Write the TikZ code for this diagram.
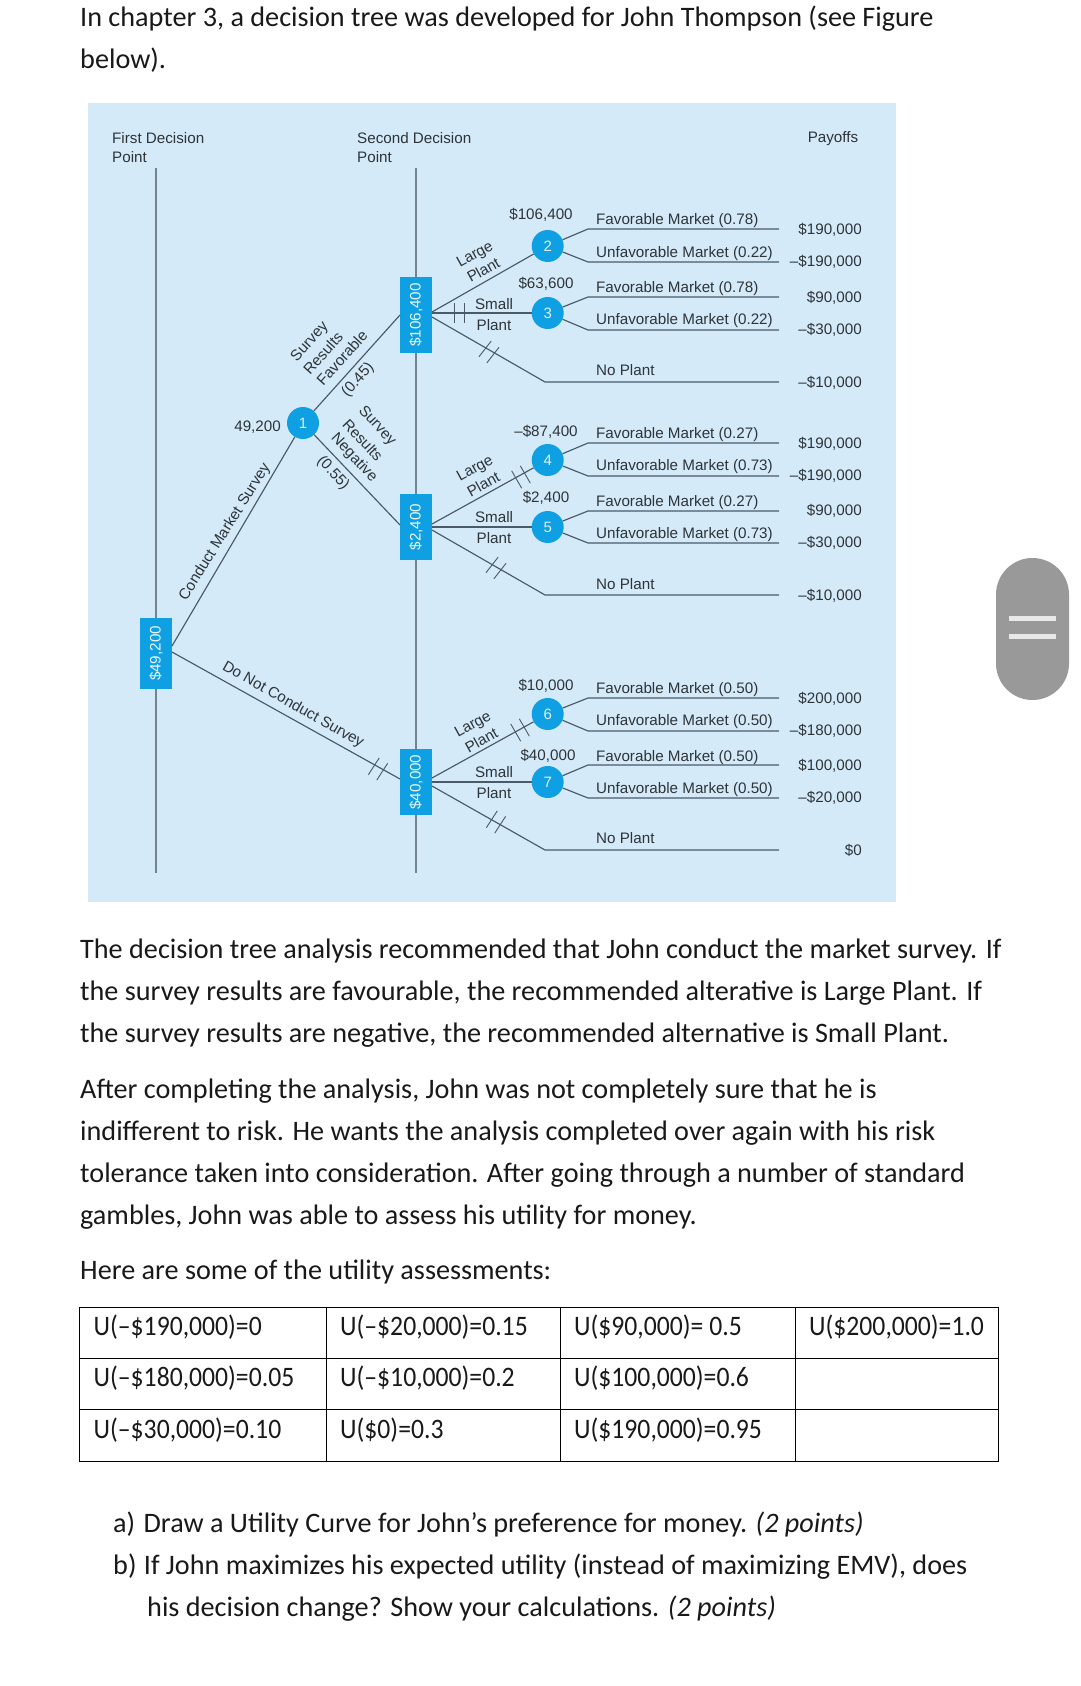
\documentclass[tikz,border=0pt]{standalone}
\usepackage{fontspec}
\setmainfont{Carlito}
\newfontfamily\treefont{Liberation Sans}
\newfontfamily\narrowfont[FakeStretch=0.91]{Carlito}
\definecolor{panel}{HTML}{D4EAF9}
\definecolor{boxblue}{HTML}{0FA0E4}
\definecolor{axisgray}{HTML}{73848F}
\definecolor{branch}{HTML}{4A5A66}
\definecolor{treetext}{HTML}{2E3438}
\definecolor{pill}{HTML}{999999}
\definecolor{pillbar}{HTML}{E8E8E8}
\tikzset{
  body/.style={anchor=base west,inner sep=0pt,font=\fontsize{28.2}{32}\selectfont,text=black!90},
  cell/.style={anchor=base west,inner sep=0pt,font=\narrowfont\fontsize{28.2}{32}\selectfont,text=black!90},
  tt/.style={inner sep=0pt,text=treetext,font=\treefont\fontsize{15.2}{19}\selectfont},
  ttl/.style={tt,anchor=mid west,yshift=-3pt},
  ttr/.style={tt,anchor=mid east,yshift=-3pt},
  ttb/.style={tt,align=center,font=\treefont\fontsize{15.2}{20}\selectfont},
  tta/.style={tt,align=left,anchor=north west,text=treetext},
  axisline/.style={draw=axisgray,line width=1.8pt},
  branchline/.style={draw=branch,line width=1.15pt},
  hashmarkline/.style={draw=branch,line width=0.9pt},
  decbox/.style={fill=boxblue,draw=none,inner sep=0pt,minimum width=32pt,text=white!90!boxblue,font=\treefont\fontsize{15.2}{18}\selectfont},
  chance/.style={circle,fill=boxblue,draw=none,minimum size=32pt,inner sep=0pt,text=white!85!boxblue,font=\treefont\fontsize{15}{18}\selectfont},
  gridline/.style={draw=black,line width=0.8pt}
}
\newcommand{\hashat}[3]{\draw[hashmarkline,shift={(#1,#2)},rotate=#3] (-5,-10)--(-5,10) (5,-10)--(5,10);}
\begin{document}
\begin{tikzpicture}[x=1pt,y=-1pt]
\useasboundingbox (0,0) rectangle (1080,1686);
\fill[white] (0,0) rectangle (1080,1686);
% body text
\node[body] (t1) at (80,27) {In chapter 3, a decision tree was developed for John Thompson (see Figure};
\node[body] (t2) at (80,69) {below).};
\node[body] (t3) at (80,958) {The decision tree analysis recommended that John conduct the market survey. If};
\node[body] (t4) at (80,1000) {the survey results are favourable, the recommended alterative is Large Plant. If};
\node[body] (t5) at (80,1042) {the survey results are negative, the recommended alternative is Small Plant.};
\node[body] (t6) at (80,1098) {After completing the analysis, John was not completely sure that he is};
\node[body] (t7) at (80,1140) {indifferent to risk. He wants the analysis completed over again with his risk};
\node[body] (t8) at (80,1182) {tolerance taken into consideration. After going through a number of standard};
\node[body] (t9) at (80,1224) {gambles, John was able to assess his utility for money.};
\node[body] (t10) at (80,1279) {Here are some of the utility assessments:};
% panel
\fill[panel] (88,103) rectangle (896,902);
% axes and decision boxes
\node[decbox,minimum height=71pt] (b0) at (156,653.5) {\rotatebox{90}{\$49,200}};
\node[decbox,minimum height=76pt] (b1) at (416,315) {\rotatebox{90}{\$106,400}};
\node[decbox,minimum height=66pt] (b2) at (416,527) {\rotatebox{90}{\$2,400}};
\node[decbox,minimum height=66pt] (b3) at (416,782) {\rotatebox{90}{\$40,000}};
\coordinate (a1top) at (156,168);
\coordinate (a1bot) at (156,873);
\coordinate (a2top) at (416,168);
\coordinate (a2bot) at (416,873);
\draw[axisline] (a1top) -- (b0) -- (a1bot);
\draw[axisline] (a2top) -- (b1) -- (b2) -- (b3) -- (a2bot);
% chance nodes
\node[chance] (c1) at (303,423) {1};
\node[chance] (c2) at (547.7,246) {2};
\node[chance] (c3) at (547.7,313) {3};
\node[chance] (c4) at (547.7,460) {4};
\node[chance] (c5) at (547.7,527) {5};
\node[chance] (c6) at (547.7,714) {6};
\node[chance] (c7) at (547.7,782) {7};
% branch ports on the decision boxes
\coordinate (p0u) at (172,646);
\coordinate (p0d) at (172,652);
\coordinate (p1i) at (400,315);
\coordinate (p1u) at (432,312);
\coordinate (p1m) at (432,313);
\coordinate (p1d) at (432,317);
\coordinate (p2i) at (400,525);
\coordinate (p2u) at (432,524);
\coordinate (p2m) at (432,527);
\coordinate (p2d) at (432,530);
\coordinate (p3i) at (400,779);
\coordinate (p3u) at (432,778);
\coordinate (p3m) at (432,782);
\coordinate (p3d) at (432,786);
% main branches
\draw[branchline] (p0u) -- (c1);
\draw[branchline] (p0d) -- (p3i);
\draw[branchline] (c1) -- (p1i);
\draw[branchline] (c1) -- (p2i);
\draw[branchline] (p1u) -- (c2);
\draw[branchline] (p1m) -- (c3);
\draw[branchline] (p2u) -- (c4);
\draw[branchline] (p2m) -- (c5);
\draw[branchline] (p3u) -- (c6);
\draw[branchline] (p3m) -- (c7);
% outcome branches
\foreach \c/\ya/\yb/\nm in {c2/229/262/p,c3/297/330/q,c4/443/476/r,c5/511/543/s,c6/698/731/u,c7/765/798/v}{
  \coordinate (\nm ua) at (588,\ya);
  \coordinate (\nm ub) at (779,\ya);
  \coordinate (\nm la) at (588,\yb);
  \coordinate (\nm lb) at (779,\yb);
  \draw[branchline] (\c) -- (\nm ua) -- (\nm ub);
  \draw[branchline] (\c) -- (\nm la) -- (\nm lb);
}
% no plant branches
\coordinate (n1a) at (545,382); \coordinate (n1b) at (779,382);
\coordinate (n2a) at (545,595); \coordinate (n2b) at (779,595);
\coordinate (n3a) at (545,850); \coordinate (n3b) at (779,850);
\draw[branchline] (p1d) -- (n1a) -- (n1b);
\draw[branchline] (p2d) -- (n2a) -- (n2b);
\draw[branchline] (p3d) -- (n3a) -- (n3b);
% hash marks
\hashat{459}{313}{0}
\hashat{489}{352}{-38}
\hashat{521}{477}{30}
\hashat{496}{568}{-38}
\hashat{378}{769}{-33}
\hashat{520}{730}{30}
\hashat{496}{822}{-33}
% headings
\node[tta,inner sep=0pt] (h1) at (112,132) {First Decision\\Point};
\node[tta,inner sep=0pt] (h2) at (357,132) {Second Decision\\Point};
\node[tt] (h3) at (833,139) {Payoffs};
% rotated labels
\node[ttr] (v0) at (281,426) {49,200};
\node[tt,rotate=48] (sf1) at (310,342) {Survey};
\node[tt,rotate=48] (sf2) at (323,353) {Results};
\node[tt,rotate=48] (sf3) at (342,358) {Favorable};
\node[tt,rotate=48] (sf4) at (358,380) {(0.45)};
\node[tt,rotate=-47] (sn1) at (377,426) {Survey};
\node[tt,rotate=-47] (sn2) at (363,440) {Results};
\node[tt,rotate=-47] (sn3) at (354,458) {Negative};
\node[tt,rotate=-47] (sn4) at (333,473) {(0.55)};
\node[tt,rotate=58] (cms) at (225,532) {Conduct Market Survey};
\node[tt,rotate=-29.5] (dnc) at (293,705) {Do Not Conduct Survey};
\node[ttb,rotate=29,font=\treefont\fontsize{15.2}{18.5}\selectfont] (lp1) at (479,262) {Large\\Plant};
\node[ttb,rotate=29,font=\treefont\fontsize{15.2}{18.5}\selectfont] (lp2) at (479,476) {Large\\Plant};
\node[ttb,rotate=29,font=\treefont\fontsize{15.2}{18.5}\selectfont] (lp3) at (477,732) {Large\\Plant};
\node[ttb,font=\treefont\fontsize{15.2}{21}\selectfont] (sp1) at (494,314.5) {Small\\Plant};
\node[ttb,font=\treefont\fontsize{15.2}{21}\selectfont] (sp2) at (494,528) {Small\\Plant};
\node[ttb,font=\treefont\fontsize{15.2}{21}\selectfont] (sp3) at (494,783) {Small\\Plant};
% expected values
\node[tt] (v2) at (541,215) {\$106,400};
\node[tt] (v3) at (546,284) {\$63,600};
\node[tt] (v4) at (546,432) {–\$87,400};
\node[tt] (v5) at (546,498) {\$2,400};
\node[tt] (v6) at (546,686) {\$10,000};
\node[tt] (v7) at (548,756) {\$40,000};
% outcome labels
\node[ttl] (o1) at (596,219) {Favorable Market (0.78)};
\node[ttl] (o2) at (596,252) {Unfavorable Market (0.22)};
\node[ttl] (o3) at (596,287) {Favorable Market (0.78)};
\node[ttl] (o4) at (596,319) {Unfavorable Market (0.22)};
\node[ttl] (o5) at (596,370) {No Plant};
\node[ttl] (o6) at (596,433) {Favorable Market (0.27)};
\node[ttl] (o7) at (596,465) {Unfavorable Market (0.73)};
\node[ttl] (o8) at (596,501) {Favorable Market (0.27)};
\node[ttl] (o9) at (596,533) {Unfavorable Market (0.73)};
\node[ttl] (o10) at (596,584) {No Plant};
\node[ttl] (o11) at (596,688) {Favorable Market (0.50)};
\node[ttl] (o12) at (596,720) {Unfavorable Market (0.50)};
\node[ttl] (o13) at (596,756) {Favorable Market (0.50)};
\node[ttl] (o14) at (596,788) {Unfavorable Market (0.50)};
\node[ttl] (o15) at (596,838) {No Plant};
% payoffs
\node[ttr] (y1) at (862,229) {\$190,000};
\node[ttr] (y2) at (862,261) {–\$190,000};
\node[ttr] (y3) at (862,297) {\$90,000};
\node[ttr] (y4) at (862,329) {–\$30,000};
\node[ttr] (y5) at (862,382) {–\$10,000};
\node[ttr] (y6) at (862,443) {\$190,000};
\node[ttr] (y7) at (862,475) {–\$190,000};
\node[ttr] (y8) at (862,510) {\$90,000};
\node[ttr] (y9) at (862,542) {–\$30,000};
\node[ttr] (y10) at (862,595) {–\$10,000};
\node[ttr] (y11) at (862,698) {\$200,000};
\node[ttr] (y12) at (862,730) {–\$180,000};
\node[ttr] (y13) at (862,765) {\$100,000};
\node[ttr] (y14) at (862,797) {–\$20,000};
\node[ttr] (y15) at (862,850) {\$0};
% table
\draw[gridline] (79.5,1307) rectangle (998,1461);
\draw[gridline] (79.5,1358) -- (998,1358);
\draw[gridline] (79.5,1409) -- (998,1409);
\draw[gridline] (326,1307) -- (326,1461);
\draw[gridline] (560.5,1307) -- (560.5,1461);
\draw[gridline] (795,1307) -- (795,1461);
\node[cell] (a11) at (93.5,1335) {U(–\$190,000)=0};
\node[cell] (a12) at (340,1335) {U(–\$20,000)=0.15};
\node[cell] (a13) at (574,1335) {U(\$90,000)= 0.5};
\node[cell] (a14) at (809,1335) {U(\$200,000)=1.0};
\node[cell] (a21) at (93.5,1386) {U(–\$180,000)=0.05};
\node[cell] (a22) at (340,1386) {U(–\$10,000)=0.2};
\node[cell] (a23) at (574,1386) {U(\$100,000)=0.6};
\node[cell] (a31) at (93.5,1438) {U(–\$30,000)=0.10};
\node[cell] (a32) at (340,1438) {U(\$0)=0.3};
\node[cell] (a33) at (574,1438) {U(\$190,000)=0.95};
% questions
\node[body] (qa) at (113,1532) {a)\kern2pt{} Draw a Utility Curve for John’s preference for money. \textit{(2 points)}};
\node[body] (qb) at (113,1574) {b)\kern1pt{} If John maximizes his expected utility (instead of maximizing EMV), does};
\node[body] (qc) at (147,1616) {his decision change? Show your calculations. \textit{(2 points)}};
% scroll handle
\fill[pill,rounded corners=36.5pt] (996,558) rectangle (1069,700);
\fill[pillbar] (1009,616) rectangle (1056,621);
\fill[pillbar] (1009,634) rectangle (1056,639);
\end{tikzpicture}
\end{document}
